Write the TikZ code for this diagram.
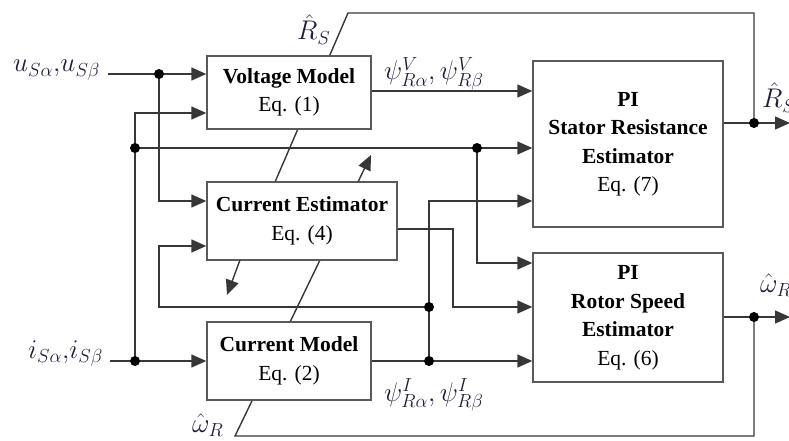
\RequirePackage{fix-cm}
\documentclass[tikz,border=0pt]{standalone}
\usepackage{fontspec}
\setmainfont{Liberation Serif}
\usetikzlibrary{arrows.meta}
\definecolor{lbl}{RGB}{30,30,60}
\definecolor{ln}{RGB}{55,55,55}
\definecolor{bx}{RGB}{90,90,90}
\tikzset{
  blk/.style={draw=bx, line width=1.4pt, fill=white, align=center, inner sep=0pt,
    font=\fontsize{21.5}{28.5}\selectfont},
  wire/.style={draw=ln, line width=1.4pt},
  arr/.style={wire, -{Triangle[length=15pt,width=13pt]}},
  dot/.style={fill=black, circle, inner sep=0pt, minimum size=10pt},
  mlbl/.style={text=lbl, inner sep=0pt, font=\fontsize{27}{32}\selectfont},
}
\begin{document}
\begin{tikzpicture}[x=1pt,y=-1pt]
\useasboundingbox (0,0) rectangle (789,441);
% junction coordinates
\coordinate (uin) at (108,74);
\coordinate (ju) at (159,74);
\coordinate (iin) at (110,361);
\coordinate (ji) at (135,361);
\coordinate (ji2) at (135,148);
\coordinate (ji3) at (477,148);
\coordinate (jpI) at (429,361);
\coordinate (jpI2) at (429,307);
\coordinate (fb) at (159,307);
\coordinate (ceo) at (453,229);
\coordinate (jR) at (754,123);
\coordinate (jW) at (754,317);
\coordinate (rt) at (754,13);
\coordinate (rtl) at (348,13);
\coordinate (wb) at (754,436);
\coordinate (wbl) at (235,436);
\coordinate (Rout) at (790,123);
\coordinate (Wout) at (790,317);
% slanted parameter lines (drawn behind boxes)
\coordinate (ceT) at (275,182);
\coordinate (ceB) at (320,260);
\draw[wire] (jR) -- (rt) -- (rtl) -- (ceT);
\draw[wire] (jW) -- (wb) -- (wbl) -- (ceB);
% boxes
\node[blk, minimum width=164pt, minimum height=73pt] (VM) at (289,92.5)
  {\textbf{Voltage Model}\\Eq. (1)};
\node[blk, minimum width=190pt, minimum height=78pt] (CE) at (302,221)
  {\textbf{Current Estimator}\\Eq. (4)};
\node[blk, minimum width=164pt, minimum height=78pt] (CM) at (289,361)
  {\textbf{Current Model}\\Eq. (2)};
\node[blk, minimum width=190pt, minimum height=166pt] (SR) at (628,144)
  {\textbf{PI}\\\textbf{Stator Resistance}\\\textbf{Estimator}\\Eq. (7)};
\node[blk, minimum width=190pt, minimum height=129pt] (RS) at (628,317.5)
  {\textbf{PI}\\\textbf{Rotor Speed}\\\textbf{Estimator}\\Eq. (6)};
% u input
\draw[wire] (uin) -- (ju);
\draw[arr] (ju) -- (ju -| VM.west);
\draw[arr] (ju) |- (CE.west |- 0,201);
% i input
\draw[wire] (iin) -- (ji);
\draw[arr] (ji) -- (ji -| CM.west);
\draw[arr] (ji) |- (VM.west |- 0,113);
\draw[arr] (ji2) -- (ji2 -| SR.west);
\draw[arr] (ji3) |- (RS.west |- 0,263);
% voltage model flux
\draw[arr] (VM.east |- 0,91) -- (SR.west |- 0,91);
% current model flux
\draw[arr] (CM.east |- ji) -- (RS.west |- ji);
\draw[arr] (jpI) |- (SR.west |- 0,201);
\draw[arr] (jpI2) -- (fb) |- (CE.west |- 0,246);
% current estimator output
\draw[arr] (CE.east |- ceo) -- (ceo) |- (RS.west |- 0,307);
% outputs
\draw[arr] (SR.east |- jR) -- (Rout);
\draw[arr] (RS.east |- jW) -- (Wout);
% adjustable arrows
\coordinate (a1s) at (240,260);
\coordinate (a1e) at (227,295);
\coordinate (a2s) at (358,182);
\coordinate (a2e) at (371,155);
\draw[arr] (a1s) -- (a1e);
\draw[arr] (a2s) -- (a2e);
% dots
\foreach \p in {ju,ji,ji2,ji3,jpI,jpI2,jR,jW}
  \node[dot] at (\p) {};
% labels
\node[mlbl, anchor=base west] (lu) at (13,72) {$u_{S\alpha}{,}u_{S\beta}$};
\node[mlbl, anchor=base west] (li) at (28,358) {$i_{S\alpha}{,}i_{S\beta}$};
\node[mlbl, anchor=base west] (lR1) at (297,40) {$\hat{R}_S$};
\node[mlbl, anchor=base west] (lpV) at (384,80) {$\psi^V_{R\alpha},\psi^V_{R\beta}$};
\node[mlbl, anchor=base west] (lR2) at (762,108) {$\hat{R}_S$};
\node[mlbl, anchor=base west] (lW1) at (760,292) {$\hat{\omega}_R$};
\node[mlbl, anchor=base west] (lpI) at (384,401) {$\psi^I_{R\alpha},\psi^I_{R\beta}$};
\node[mlbl, anchor=base west] (lW2) at (192,432) {$\hat{\omega}_R$};
\end{tikzpicture}
\end{document}
